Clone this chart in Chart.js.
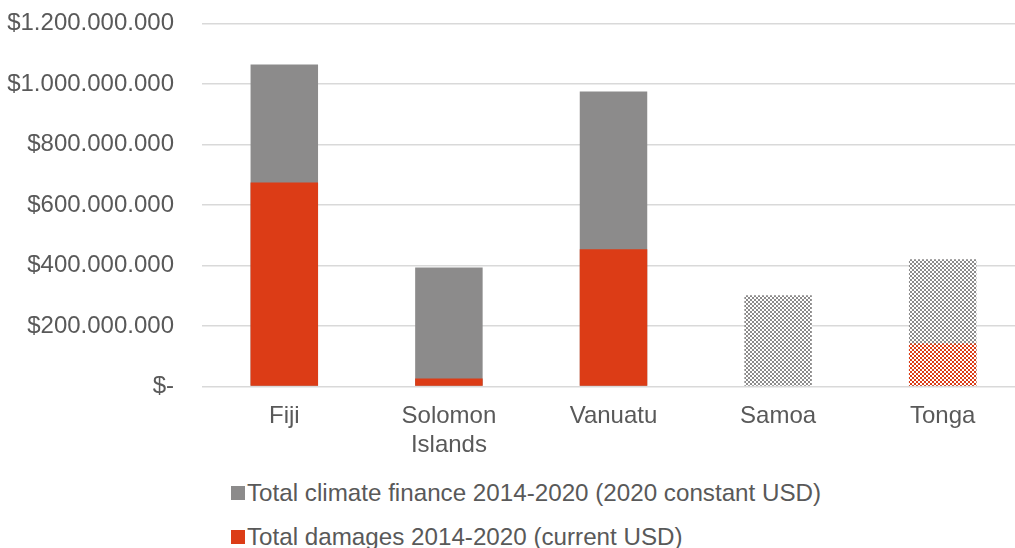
<!DOCTYPE html>
<html>
<head>
<meta charset="utf-8">
<script src="https://cdn.jsdelivr.net/npm/chart.js@4"></script>
<style>
  html, body { margin: 0; padding: 0; background: #fff; overflow: hidden; }
  #wrap { position: relative; width: 1030px; height: 548px; }
  #box { position: absolute; left: 0; top: -19px; width: 1030px; height: 495px; }
  #legend { position: absolute; left: 231px; top: 478px; font-family: "Liberation Sans", Arial, sans-serif;
            font-size: 24.2px; color: #595959; }
  #legend div { height: 44px; line-height: 30px; white-space: nowrap; }
  #legend span.sw { display: inline-block; width: 14px; height: 14px; margin-right: 2px; vertical-align: 1px; }
</style>
</head>
<body>
<div id="wrap">
  <div id="box"><canvas id="chart"></canvas></div>
  <div id="legend"></div>
</div>
<script>
// data
const countries = ['Fiji', ['Solomon', 'Islands'], 'Vanuatu', 'Samoa', 'Tonga'];
const climateFinance = [1064000000, 393000000, 975000000, 301000000, 420000000];
const damages        = [674000000, 26000000, 453000000, 0, 142000000];
const hatched        = [false, false, false, true, true]; // estimated bars shown with a pattern
const yTicks = [0, 200000000, 400000000, 600000000, 800000000, 1000000000, 1200000000];

const GREY = '#8c8b8b';
const RED  = '#dc3c16';
const TEXT = '#595959';

// small checkerboard pattern
function checker(color) {
  const c = document.createElement('canvas');
  c.width = 4; c.height = 4;
  const g = c.getContext('2d');
  g.fillStyle = '#fff';
  g.fillRect(0, 0, 4, 4);
  g.fillStyle = color;
  g.fillRect(0, 0, 2, 2);
  g.fillRect(2, 2, 2, 2);
  return g.createPattern(c, 'repeat');
}

const greyFill = hatched.map(h => h ? checker(GREY) : GREY);
const redFill  = hatched.map(h => h ? checker(RED) : RED);

function money(v) {
  if (v === 0) return '$-';
  return '$' + String(v).replace(/\B(?=(\d{3})+(?!\d))/g, '.');
}

// legend (HTML, left aligned like the original)
const legend = document.getElementById('legend');
[['Total climate finance 2014-2020 (2020 constant USD)', GREY],
 ['Total damages 2014-2020 (current USD)', RED]].forEach(([label, col]) => {
  const row = document.createElement('div');
  row.innerHTML = `<span class="sw" style="background:${col}"></span>${label}`;
  legend.appendChild(row);
});

const ctx = document.getElementById('chart').getContext('2d');
new Chart(ctx, {
  type: 'bar',
  data: {
    labels: countries,
    datasets: [
      {
        label: 'Total damages 2014-2020 (current USD)',
        data: damages,
        backgroundColor: redFill,
        order: 0
      },
      {
        label: 'Total climate finance 2014-2020 (2020 constant USD)',
        data: climateFinance,
        backgroundColor: greyFill,
        order: 1
      }
    ]
  },
  options: {
    responsive: true,
    maintainAspectRatio: false,
    animation: false,
    datasets: {
      bar: { grouped: false, categoryPercentage: 0.41, barPercentage: 1, borderWidth: 0 }
    },
    layout: { padding: { top: 12, right: 5, left: 0, bottom: 0 } },
    plugins: {
      legend: { display: false },
      tooltip: { enabled: false }
    },
    scales: {
      x: {
        grid: { display: false, drawTicks: false },
        border: { display: false },
        ticks: {
          color: TEXT,
          padding: 16,
          maxRotation: 0,
          font: { family: 'Liberation Sans', size: 24 }
        }
      },
      y: {
        min: 0,
        max: 1200000000,
        afterBuildTicks: axis => { axis.ticks = yTicks.map(v => ({ value: v })); },
        afterFit: axis => { axis.width = 202; },
        grid: { color: '#d9d9d9', lineWidth: 1.5, drawTicks: false },
        border: { display: false },
        ticks: {
          color: TEXT,
          padding: 28,
          font: { family: 'Liberation Sans', size: 24 },
          callback: v => money(v)
        }
      }
    }
  }
});
</script>
</body>
</html>
